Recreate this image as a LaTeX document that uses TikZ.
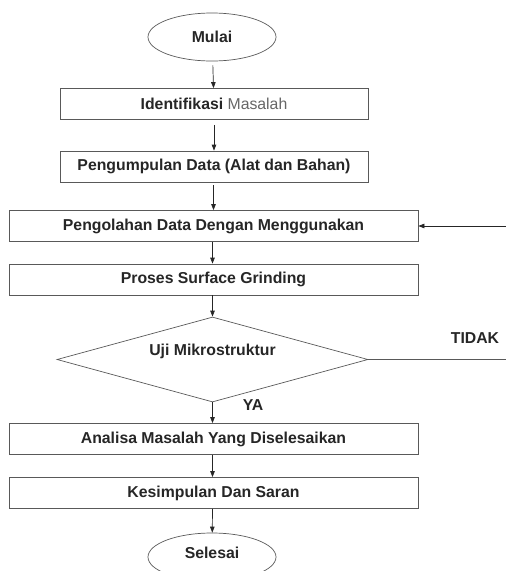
\documentclass[tikz,border=0pt]{standalone}
\usepackage{fontspec}
\setmainfont{Liberation Sans}
\usetikzlibrary{arrows.meta,shapes.geometric}
\def\flowfont{\fontsize{15.8}{17}\selectfont\bfseries}

\begin{document}
\begin{tikzpicture}[x=1pt,y=-1pt,
		line/.style={draw=black!65,line width=0.7pt},
		terminal/.style={line,ellipse,minimum width=128pt,minimum height=48pt,inner sep=0pt,font=\flowfont,text=black!85},
		process/.style={line,rectangle,minimum height=31pt,inner sep=0pt,font=\flowfont,text=black!85},
		decision/.style={line,diamond,aspect=3.66,minimum width=311pt,minimum height=85pt,inner sep=0pt,font=\flowfont,text=black!85},
		flow/.style={line,draw=black!85,-{Triangle[length=6pt,width=4.5pt]}}]
		%%%%% START %%%%%
		\useasboundingbox (0, 0) rectangle (506, 571);
		
		\node[terminal] (mulai) at (212, 37) {Mulai};
		\node[process, minimum width=308pt] (identifikasi) at (214, 104) {Identifikasi \mdseries\color{black!60}Masalah};
		\node[process, minimum width=308pt] (pengumpulan) at (214, 166.5) {Pengumpulan Data (Alat dan Bahan)};
		\node[process, minimum width=409pt] (pengolahan) at (213.5, 226) {Pengolahan Data Dengan Menggunakan};
		\node[process, minimum width=409pt] (proses) at (213.5, 279.5) {Proses Surface Grinding};
		\node[decision] (uji) at (212.5, 359.5) {\raisebox{4.5pt}[0pt][0pt]{Uji Mikrostruktur}};
		\node[process, minimum width=409pt] (analisa) at (213.5, 439) {Analisa Masalah Yang Diselesaikan};
		\node[process, minimum width=409pt] (kesimpulan) at (213.5, 493) {Kesimpulan Dan Saran};
		\node[terminal] (selesai) at (212, 557) {\raisebox{-1pt}[0pt][0pt]{Selesai}};
		
		\node[font=\flowfont, text=black!85] (tidak) at (475, 338) {TIDAK};
		\node[font=\flowfont, text=black!85] (ya) at (253, 405) {YA};
		
		\draw[flow, shorten <=4pt] (mulai) -- (identifikasi);
		\draw[flow, shorten <=5pt] (identifikasi) -- (pengumpulan);
		\draw[flow, shorten <=3pt] (pengumpulan.south -| pengolahan.north) -- (pengolahan);
		\draw[flow] (pengolahan.south -| uji.north) -- (proses.north -| uji.north);
		\draw[flow] (proses.south -| uji.north) -- (uji);
		\draw[flow] (uji) -- (analisa.north -| uji.south);
		\draw[flow] (analisa.south -| uji.south) -- (kesimpulan.north -| uji.south);
		\draw[flow] (kesimpulan.south -| uji.south) -- (selesai);
		
		\coordinate (kanan) at (508, 359.5);
		\draw[line] (uji.east) -- (kanan) -- (kanan |- pengolahan.east);
		\draw[flow] (kanan |- pengolahan.east) -- (pengolahan.east);
		%%%%% END %%%%%
	\end{tikzpicture}
\end{document}
